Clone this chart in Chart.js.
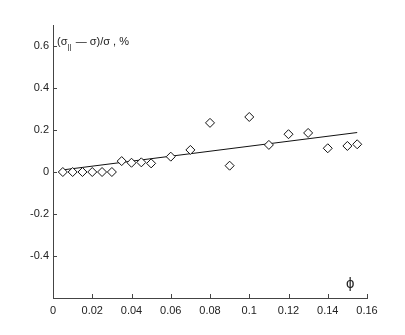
<!DOCTYPE html>
<html>
<head>
<meta charset="utf-8">
<script src="https://cdn.jsdelivr.net/npm/chart.js@4"></script>
<style>
  html, body { margin: 0; padding: 0; background: #fff; }
  #wrap { width: 405px; height: 335px; }
</style>
</head>
<body>
<div id="wrap"><canvas id="phiChart" width="405" height="335"></canvas></div>
<script>
// measured points
const phiValues = [0.005, 0.01, 0.015, 0.02, 0.025, 0.03, 0.035, 0.04, 0.045, 0.05,
                   0.06, 0.07, 0.08, 0.09, 0.1, 0.11, 0.12, 0.13, 0.14, 0.15, 0.155];
const deltaValues = [0, 0, 0, 0, 0, 0, 0.052, 0.044, 0.046, 0.041,
                     0.073, 0.105, 0.234, 0.030, 0.262, 0.129, 0.180, 0.186, 0.113, 0.124, 0.132];
// fitted line end points
const fitX = [0.005, 0.155];
const fitY = [0.010, 0.188];
const xTicks = [0, 0.02, 0.04, 0.06, 0.08, 0.1, 0.12, 0.14, 0.16];
const yTicks = [-0.4, -0.2, 0, 0.2, 0.4, 0.6];

const axisColor = '#444';
const textFont = '11px "Liberation Sans", Arial, sans-serif';

// inward ticks + axis annotations
const decorations = {
    id: 'decorations',
    afterDraw(chart) {
        const ctx = chart.ctx;
        const xs = chart.scales.x, ys = chart.scales.y;
        const area = chart.chartArea;
        ctx.save();
        ctx.strokeStyle = axisColor;
        ctx.lineWidth = 1;
        ctx.beginPath();
        xTicks.forEach(v => {
            const px = Math.round(xs.getPixelForValue(v)) + 0.5;
            ctx.moveTo(px, area.bottom);
            ctx.lineTo(px, area.bottom - 4);
        });
        yTicks.forEach(v => {
            const py = Math.round(ys.getPixelForValue(v)) + 0.5;
            ctx.moveTo(area.left, py);
            ctx.lineTo(area.left + 4, py);
        });
        ctx.stroke();

        // y label
        ctx.fillStyle = '#222';
        ctx.font = textFont;
        ctx.textBaseline = 'middle';
        let x = area.left + 4;
        const y = ys.getPixelForValue(0.62);
        ctx.fillText('(σ', x, y);
        x += ctx.measureText('(σ').width;
        ctx.font = '8px "Liberation Sans", Arial, sans-serif';
        ctx.fillText('||', x, y + 5);
        x += ctx.measureText('||').width + 1;
        ctx.font = textFont;
        ctx.fillText(' — σ)/σ , %', x, y);

        // x label
        ctx.font = '15px "Liberation Sans", Arial, sans-serif';
        ctx.textAlign = 'center';
        ctx.fillText('ϕ', xs.getPixelForValue(0.1515), ys.getPixelForValue(-0.535));
        ctx.restore();
    }
};

new Chart(document.getElementById('phiChart'), {
    type: 'scatter',
    data: {
        datasets: [{
            label: 'points',
            data: phiValues.map((v, i) => ({ x: v, y: deltaValues[i] })),
            pointStyle: 'rectRot',
            pointRadius: 4.5,
            borderColor: '#111',
            backgroundColor: '#fff',
            borderWidth: 1
        }, {
            label: 'fit',
            type: 'line',
            data: fitX.map((v, i) => ({ x: v, y: fitY[i] })),
            borderColor: '#111',
            borderWidth: 1,
            pointRadius: 0,
            fill: false
        }]
    },
    options: {
        responsive: false,
        animation: false,
        layout: { padding: { left: 0, right: 38, top: 25, bottom: 0 } },
        plugins: {
            legend: { display: false },
            tooltip: { enabled: false }
        },
        scales: {
            x: {
                type: 'linear',
                min: 0,
                max: 0.16,
                afterBuildTicks: s => { s.ticks = xTicks.map(v => ({ value: v })); },
                afterFit: s => { s.height = 37; },
                grid: { display: false, drawTicks: false },
                border: { display: true, color: axisColor, width: 1 },
                ticks: {
                    color: '#222',
                    font: { family: '"Liberation Sans", Arial, sans-serif', size: 11 },
                    padding: 6,
                    maxRotation: 0,
                    callback: v => String(Math.round(v * 100) / 100)
                }
            },
            y: {
                type: 'linear',
                min: -0.6,
                max: 0.7,
                afterBuildTicks: s => { s.ticks = yTicks.map(v => ({ value: v })); },
                afterFit: s => { s.width = 53; },
                grid: { display: false, drawTicks: false },
                border: { display: true, color: axisColor, width: 1 },
                ticks: {
                    color: '#222',
                    font: { family: '"Liberation Sans", Arial, sans-serif', size: 11 },
                    padding: 4,
                    callback: v => String(Math.round(v * 10) / 10)
                }
            }
        }
    },
    plugins: [decorations]
});
</script>
</body>
</html>
